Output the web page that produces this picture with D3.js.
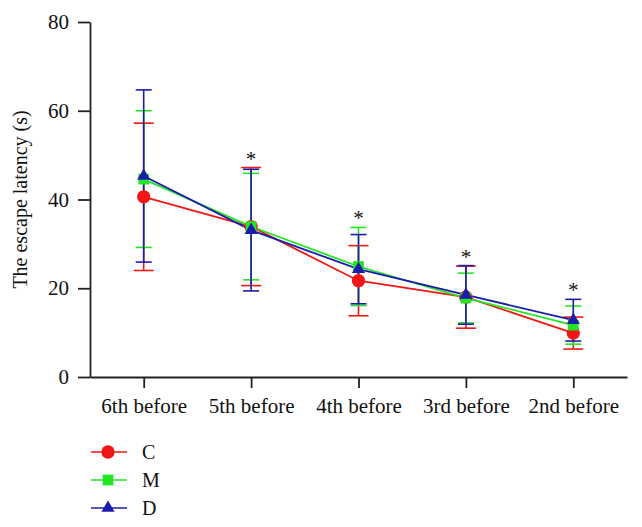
<!DOCTYPE html>
<html>
<head>
<meta charset="utf-8">
<script src="https://cdn.jsdelivr.net/npm/d3@7"></script>
<style>
  body { margin: 0; background: #fff; }
  svg { display: block; }
  text { font-family: "Liberation Serif", "Times New Roman", serif; fill: #111; }
</style>
</head>
<body>
<svg id="chart" width="642" height="527"></svg>
<script>
// ---- data ----
const categories = ["6th before", "5th before", "4th before", "3rd before", "2nd before"];
const yTicks = [0, 20, 40, 60, 80];
const seriesNames = ["C", "M", "D"];
const meanC = [40.6, 33.9, 21.7, 18.0, 9.9];
const sdC   = [16.6, 13.3, 7.9, 7.0, 3.6];
const meanM = [44.6, 33.9, 24.9, 17.8, 11.7];
const sdM   = [15.4, 12.0, 8.8, 5.6, 4.3];
const meanD = [45.3, 33.1, 24.3, 18.5, 12.8];
const sdD   = [19.4, 13.7, 7.8, 6.6, 4.7];
const significant = [false, true, true, true, true];

(function () {
// ---- styles ----
const colors = { C: "#f21616", M: "#22e622", D: "#1c1cab" };
const capW = { C: 20, M: 16, D: 16 };
const series = [
  { name: "C", mean: meanC, sd: sdC },
  { name: "M", mean: meanM, sd: sdM },
  { name: "D", mean: meanD, sd: sdD }
];

const svg = d3.select("#chart");
const mLeft = 90, mRight = 627, mTop = 22, mBottom = 377;

const x = d3.scalePoint().domain(categories).range([mLeft, mRight]).padding(0.5);
const y = d3.scaleLinear().domain([0, 80]).range([mBottom, mTop]);

// axes
const yAxis = svg.append("g").attr("transform", `translate(${mLeft},0)`)
  .call(d3.axisLeft(y).tickValues(yTicks).tickSize(12).tickPadding(9).tickSizeOuter(0));
const xAxis = svg.append("g").attr("transform", `translate(0,${mBottom})`)
  .call(d3.axisBottom(x).tickSize(11).tickPadding(10).tickSizeOuter(0));
[yAxis, xAxis].forEach(g => {
  g.select(".domain").attr("stroke", "#222").attr("stroke-width", 1.8);
  g.selectAll(".tick line").attr("stroke", "#222").attr("stroke-width", 1.8);
  g.selectAll(".tick text").style("font-family", '"Liberation Serif", serif')
    .style("font-size", "21px").attr("fill", "#111");
});

// y label
svg.append("text")
  .attr("transform", `translate(27,${(mTop + mBottom) / 2}) rotate(-90)`)
  .attr("text-anchor", "middle")
  .style("font-size", "20px")
  .text("The escape latency (s)");

// error bars
series.forEach(s => {
  const g = svg.append("g").attr("stroke", colors[s.name]).attr("stroke-width", 1.6).attr("fill", "none");
  categories.forEach((c, i) => {
    const cx = x(c), hi = y(s.mean[i] + s.sd[i]), lo = y(s.mean[i] - s.sd[i]);
    g.append("line").attr("x1", cx).attr("x2", cx).attr("y1", hi).attr("y2", lo);
    g.append("line").attr("x1", cx - capW[s.name] / 2).attr("x2", cx + capW[s.name] / 2).attr("y1", hi).attr("y2", hi);
    g.append("line").attr("x1", cx - capW[s.name] / 2).attr("x2", cx + capW[s.name] / 2).attr("y1", lo).attr("y2", lo);
  });
});

// lines
const line = d3.line().x((d, i) => x(categories[i])).y(d => y(d));
series.forEach(s => {
  svg.append("path").datum(s.mean).attr("d", line)
    .attr("fill", "none").attr("stroke", colors[s.name]).attr("stroke-width", 1.8);
});

// markers
const sym = {
  C: d3.symbol().type(d3.symbolCircle).size(140),
  M: d3.symbol().type(d3.symbolSquare).size(115),
  D: d3.symbol().type(d3.symbolTriangle).size(75)
};
series.forEach(s => {
  svg.append("g").selectAll("path").data(s.mean).join("path")
    .attr("d", sym[s.name]())
    .attr("transform", (d, i) => `translate(${x(categories[i])},${y(d)})`)
    .attr("fill", colors[s.name]);
});

// significance stars
categories.forEach((c, i) => {
  if (!significant[i]) return;
  const top1 = d3.max(series, s => s.mean[i] + s.sd[i]);
  svg.append("text")
    .attr("x", x(c)).attr("y", y(top1) - 2)
    .attr("text-anchor", "middle")
    .style("font-size", "21px")
    .text("*");
});

// legend
const legY = [452, 480, 508];
series.forEach((s, k) => {
  const g = svg.append("g").attr("transform", `translate(0,${legY[k]})`);
  g.append("line").attr("x1", 91).attr("x2", 127).attr("y1", 0).attr("y2", 0)
    .attr("stroke", colors[s.name]).attr("stroke-width", 1.6);
  g.append("path").attr("d", sym[s.name]()).attr("transform", "translate(108,0)").attr("fill", colors[s.name]);
  g.append("text").attr("x", 142).attr("y", 0).attr("dy", "0.35em")
    .style("font-size", "20px").text(s.name);
});
})();
</script>
</body>
</html>
